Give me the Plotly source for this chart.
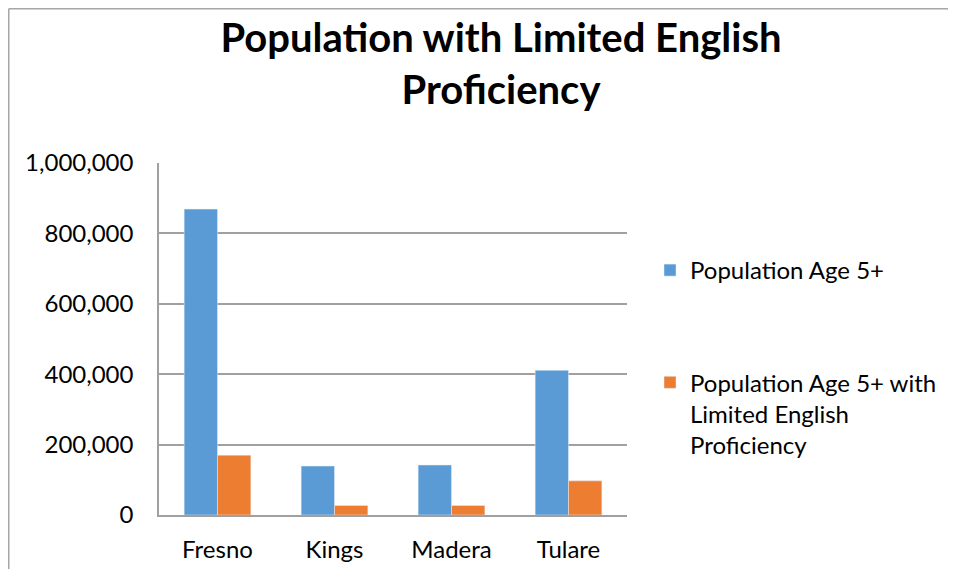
import plotly.graph_objects as go

counties = ["Fresno", "Kings", "Madera", "Tulare"]
pop_5plus = [869000, 139000, 142000, 411000]
pop_lep = [170000, 27000, 27000, 97000]
series_names = ["Population Age 5+", "Population Age 5+ with<br>Limited English<br>Proficiency"]
y_ticks = [0, 200000, 400000, 600000, 800000, 1000000]

OFF = 8  # page body margin
W, H = 956 - 2 * OFF, 577 - 2 * OFF
L, T = 159 - OFF, 163 - OFF
pw, ph = 468, 352
R = W - L - pw
B = H - T - ph

def px(x):
    # screen x -> paper x
    return (x - OFF - L) / pw

def py(y):
    # screen y -> paper y
    return (T + ph - (y - OFF)) / ph

FONT = "Lato"
BORDER = dict(color="#A6A6A6", width=1.5)

fig = go.Figure()
fig.add_trace(go.Bar(x=counties, y=pop_5plus, name=series_names[0], marker_color="#5B9BD5",
                     legendgroup="a"))
fig.add_trace(go.Bar(x=counties, y=pop_lep, name=series_names[1], marker_color="#ED7D31",
                     legendgroup="b"))

fig.update_layout(
    width=W, height=H,
    margin=dict(l=L, r=R, t=T, b=B, autoexpand=False),
    paper_bgcolor="white", plot_bgcolor="white",
    barmode="group", bargap=0.43, bargroupgap=0,
    font=dict(family=FONT, color="#000000"),
    title=dict(text="<b>Population with Limited English<br>Proficiency</b>",
               x=px(501), xref="paper", xanchor="center",
               y=1 - (52 - OFF) / H, yanchor="middle",
               font=dict(size=40, family=FONT)),
    showlegend=True,
    legend=dict(x=px(650), xanchor="left", y=py(248), yanchor="top",
                font=dict(size=24, family=FONT), valign="top",
                tracegroupgap=78, traceorder="grouped", itemwidth=30,
                bgcolor="rgba(0,0,0,0)"),
    shapes=[
        dict(type="line", xref="paper", yref="paper",
             x0=px(OFF + 0.75), x1=px(OFF + 0.75), y0=py(700), y1=py(OFF + 0.75),
             line=BORDER, layer="below"),
        dict(type="line", xref="paper", yref="paper",
             x0=px(OFF + 0.75), x1=px(1100), y0=py(OFF + 0.75), y1=py(OFF + 0.75),
             line=BORDER, layer="below"),
    ],
)
fig.update_xaxes(showgrid=False, showline=True, linecolor="#A0A0A0", linewidth=1.5,
                 ticks="", tickfont=dict(size=24, family=FONT), ticklabelstandoff=12)
fig.update_yaxes(range=[0, 1000000], tickvals=y_ticks, tickformat=",d",
                 showgrid=True, gridcolor="#A0A0A0", gridwidth=1.5,
                 showline=True, linecolor="#A0A0A0", linewidth=1.5, zeroline=False,
                 ticks="", tickfont=dict(size=24, family=FONT), ticklabelstandoff=19)

fig.write_html("out.html")
